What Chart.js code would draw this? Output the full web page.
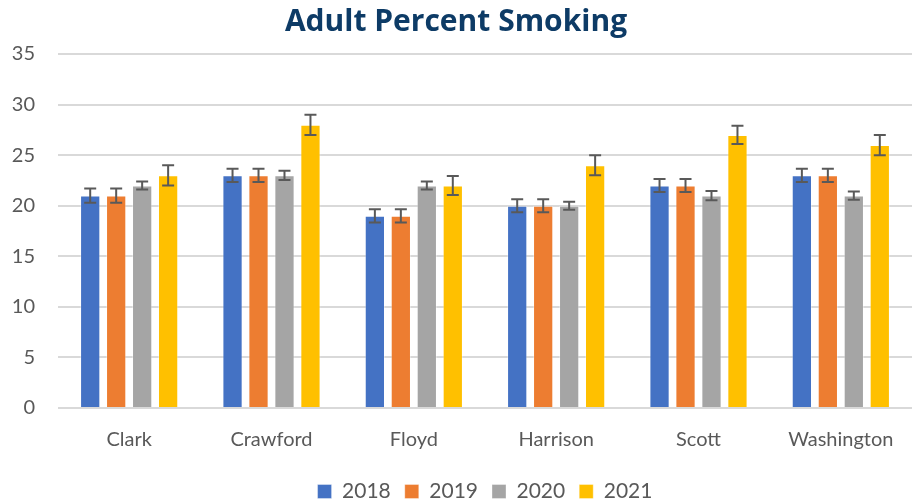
<!DOCTYPE html>
<html>
<head>
<meta charset="utf-8">
<script src="https://cdn.jsdelivr.net/npm/chart.js@4"></script>
<style>
  html, body { margin: 0; padding: 0; background: #fff; overflow: hidden; }
  #wrap { width: 912px; height: 512px; position: relative; }
</style>
</head>
<body>
<div id="wrap"><canvas id="smokingChart"></canvas></div>
<script>
// Chart data
const counties = ['Clark', 'Crawford', 'Floyd', 'Harrison', 'Scott', 'Washington'];
const years = ['2018', '2019', '2020', '2021'];
const values2018 = [21, 23, 19, 20, 22, 23];
const values2019 = [21, 23, 19, 20, 22, 23];
const values2020 = [22, 23, 22, 20, 21, 21];
const values2021 = [23, 28, 22, 24, 27, 26];
// +/- error amounts per series
const errors2018 = [0.7, 0.65, 0.65, 0.65, 0.65, 0.65];
const errors2019 = [0.7, 0.65, 0.65, 0.65, 0.65, 0.65];
const errors2020 = [0.4, 0.45, 0.4, 0.4, 0.45, 0.4];
const errors2021 = [1.0, 1.0, 0.95, 1.0, 0.9, 1.0];
const yTicks = [0, 5, 10, 15, 20, 25, 30, 35];

const colors = ['#4472C4', '#ED7D31', '#A5A5A5', '#FFC000'];
const seriesValues = [values2018, values2019, values2020, values2021];
const seriesErrors = [errors2018, errors2019, errors2020, errors2021];

// Draw error bars using the chart's own scales
const errorBarPlugin = {
  id: 'errorBars',
  afterDatasetsDraw: function(chart) {
    const ctx = chart.ctx;
    const yScale = chart.scales.y;
    ctx.save();
    ctx.strokeStyle = '#595959';
    ctx.lineWidth = 2;
    chart.data.datasets.forEach((ds, i) => {
      const meta = chart.getDatasetMeta(i);
      meta.data.forEach((bar, j) => {
        const v = ds.data[j];
        const err = ds.errors[j];
        const top = yScale.getPixelForValue(v + err);
        const bottom = yScale.getPixelForValue(v - err);
        const x = bar.x;
        const cap = 6;
        ctx.beginPath();
        ctx.moveTo(x, top);
        ctx.lineTo(x, bottom);
        ctx.moveTo(x - cap, top);
        ctx.lineTo(x + cap, top);
        ctx.moveTo(x - cap, bottom);
        ctx.lineTo(x + cap, bottom);
        ctx.stroke();
      });
    });
    ctx.restore();
  }
};

new Chart(document.getElementById('smokingChart'), {
  type: 'bar',
  data: {
    labels: counties,
    datasets: years.map((y, i) => ({
      label: y,
      data: seriesValues[i],
      errors: seriesErrors[i],
      backgroundColor: colors[i],
      borderColor: 'rgba(255,255,255,0.35)',
      borderWidth: 1
    }))
  },
  options: {
    responsive: true,
    maintainAspectRatio: false,
    animation: false,
    layout: { padding: 0 },
    datasets: {
      bar: { categoryPercentage: 0.73, barPercentage: 0.78 }
    },
    scales: {
      x: {
        grid: { display: false },
        border: { display: false },
        ticks: {
          color: '#595959',
          font: { family: 'Lato', size: 20 },
          padding: 12
        },
        afterFit: function(axis) {
          axis.height += 3;
        }
      },
      y: {
        min: 0,
        max: 35,
        afterBuildTicks: function(axis) {
          axis.ticks = yTicks.map(v => ({ value: v }));
        },
        afterFit: function(axis) {
          axis.width = 58;
        },
        grid: { color: '#d9d9d9', lineWidth: 2, drawTicks: false },
        border: { display: false },
        ticks: {
          color: '#595959',
          font: { family: 'Lato', size: 20 },
          padding: 23
        }
      }
    },
    plugins: {
      title: {
        display: true,
        text: 'Adult Percent Smoking',
        color: '#0d3b66',
        font: { family: 'Open Sans', size: 30, weight: 'bold' },
        padding: { top: 4, bottom: 14 }
      },
      legend: {
        position: 'bottom',
        fullSize: false,
        labels: {
          color: '#595959',
          font: { family: 'Lato', size: 21 },
          boxWidth: 14,
          boxHeight: 14,
          padding: 14
        }
      },
      tooltip: { enabled: false }
    }
  },
  plugins: [errorBarPlugin]
});
</script>
</body>
</html>
